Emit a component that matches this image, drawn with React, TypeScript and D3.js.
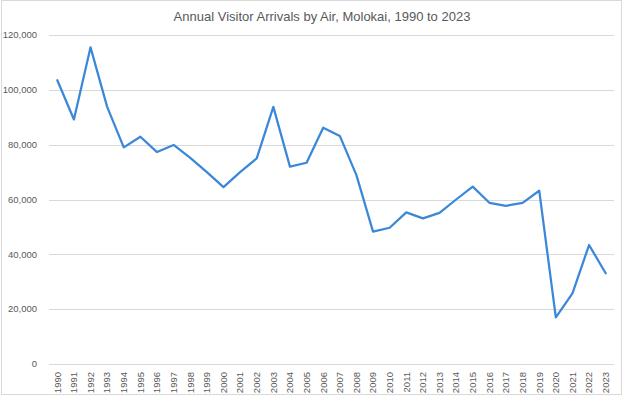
import React, { useEffect, useRef } from 'react';
import * as d3 from 'd3';

const years: string[] = [
  '1990', '1991', '1992', '1993', '1994', '1995', '1996', '1997', '1998', '1999',
  '2000', '2001', '2002', '2003', '2004', '2005', '2006', '2007', '2008', '2009',
  '2010', '2011', '2012', '2013', '2014', '2015', '2016', '2017', '2018', '2019',
  '2020', '2021', '2022', '2023',
];

const arrivals: number[] = [
  103500, 89200, 115500, 93800, 79000, 82900, 77300, 79900, 75200, 70000,
  64500, 70000, 75000, 93800, 72000, 73400, 86200, 83200, 68900, 48300,
  49700, 55300, 53100, 55100, 60000, 64700, 58800, 57700, 58800, 63200,
  17000, 25800, 43400, 33100,
];

const yTicks: number[] = [0, 20000, 40000, 60000, 80000, 100000, 120000];

const title = 'Annual Visitor Arrivals by Air, Molokai, 1990 to 2023';

const width = 624;
const height = 397;

const LineChart: React.FC = () => {
  const svgRef = useRef<SVGSVGElement>(null);

  useEffect(() => {
    const svg = d3.select(svgRef.current)
      .attr('width', width)
      .attr('height', height);

    const margin = { top: 35, right: 10, bottom: 33, left: 49 };
    const plotRight = width - margin.right;
    const plotBottom = height - margin.bottom;

    // chart frame
    svg.append('rect')
      .attr('x', 1.5)
      .attr('y', 0.5)
      .attr('width', 620)
      .attr('height', 394)
      .attr('fill', '#fff')
      .attr('stroke', '#d9d9d9');

    const x = d3.scaleBand<string>()
      .domain(years)
      .range([margin.left, plotRight]);

    const y = d3.scaleLinear()
      .domain([0, 120000])
      .range([plotBottom, margin.top]);

    const fmt = d3.format(',');

    // gridlines
    svg.append('g')
      .selectAll('line')
      .data(yTicks)
      .join('line')
      .attr('x1', margin.left)
      .attr('x2', plotRight)
      .attr('y1', (d) => Math.round(y(d)) + 0.5)
      .attr('y2', (d) => Math.round(y(d)) + 0.5)
      .attr('stroke', '#d9d9d9')
      .attr('stroke-width', 1);

    // y tick labels
    svg.append('g')
      .selectAll('text')
      .data(yTicks)
      .join('text')
      .attr('x', 37)
      .attr('y', (d) => y(d))
      .attr('dy', '0.35em')
      .attr('text-anchor', 'end')
      .attr('font-family', 'Liberation Sans, Arial, sans-serif')
      .attr('font-size', 9.5)
      .attr('fill', '#595959')
      .text((d) => fmt(d));

    // x tick labels, rotated
    svg.append('g')
      .selectAll('text')
      .data(years)
      .join('text')
      .attr('transform', (d) => `translate(${(x(d) ?? 0) + x.bandwidth() / 2},${plotBottom + 8}) rotate(-90)`)
      .attr('dy', '0.35em')
      .attr('text-anchor', 'end')
      .attr('font-family', 'Liberation Sans, Arial, sans-serif')
      .attr('font-size', 9.5)
      .attr('fill', '#595959')
      .text((d) => d);

    const line = d3.line<number>()
      .x((_, i) => (x(years[i]) ?? 0) + x.bandwidth() / 2)
      .y((d) => y(d));

    svg.append('path')
      .datum(arrivals)
      .attr('d', line)
      .attr('fill', 'none')
      .attr('stroke', '#3b87d8')
      .attr('stroke-width', 2.25)
      .attr('stroke-linejoin', 'round')
      .attr('stroke-linecap', 'round');

    svg.append('text')
      .attr('x', width / 2 + 10)
      .attr('y', 16)
      .attr('dy', '0.35em')
      .attr('text-anchor', 'middle')
      .attr('font-family', 'Liberation Sans, Arial, sans-serif')
      .attr('font-size', 13)
      .attr('fill', '#595959')
      .text(title);

    return () => {
      svg.selectAll('*').remove();
    };
  }, []);

  return <svg ref={svgRef} style={{ position: 'absolute', left: 0, top: 0, display: 'block' }}></svg>;
};

export default function App() {
  return <LineChart />;
}
